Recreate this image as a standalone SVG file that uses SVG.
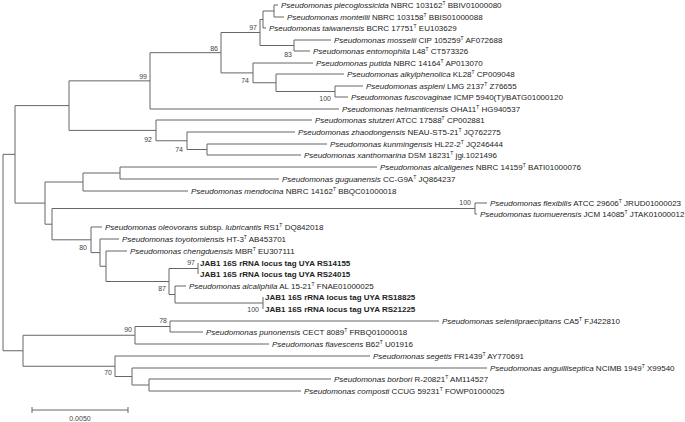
<svg xmlns="http://www.w3.org/2000/svg" width="685" height="422" viewBox="0 0 685 422">
<style>
.t{font-family:"Liberation Sans",Arial,sans-serif;font-size:8px;fill:#222}
.i{font-style:italic}
.b{font-weight:bold}
.s{font-size:5px}
.bs{font-family:"Liberation Sans",Arial,sans-serif;font-size:7px;fill:#444;text-anchor:end}
.e{fill:none;stroke:#666;stroke-width:1}
</style>
<rect width="685" height="422" fill="#fff"/>
<g id="connectors">
<path class="e" d="M3 154.35V350.75M3 154.35H15M3 350.75H23
M15 105.6V203.1M15 105.6H69M15 203.1H45
M69 80.85V130.4M69 80.85H150M69 130.4H156
M150 52.7V109M150 52.7H221M150 109H339
M221 32.5V72.9M221 32.5H260M221 72.9H253
M260 19.5V45.5M260 19.5H263M260 45.5H294
M263 11V28M263 11H274M263 28H266
M274 5V17M274 5H278M274 17H284
M294 40V51M294 40H331M294 51H310
M253 63V82.75M253 63H313M253 82.75H276
M276 74V91.5M276 74H344M276 91.5H335
M335 86V97M335 86H363M335 97H348
M156 120V140.75M156 120H312M156 140.75H187
M187 132V149.5M187 132H295M187 149.5H207
M207 144V155M207 144H327M207 155H301
M45 182V224.2M45 182H83M45 224.2H52
M83 173V191M83 173H120M83 191H188
M120 167V179M120 167H377M120 179H279
M52 208.5V239.8M52 208.5H475M52 239.8H91
M475 203V214M475 203H487M475 214H477
M91 227V252.6M91 227H102M91 252.6H100
M100 239V266.25M100 239H119M100 266.25H106
M106 251V281.5M106 251H127M106 281.5H169
M169 268.5V294.5M169 268.5H198M169 294.5H175
M198 263V274
M175 286V303M175 286H186M175 303H263
M263 297V309
M23 335.25V366.25M23 335.25H135M23 366.25H115
M135 326.5V344M135 326.5H170M135 344H269
M170 321V332M170 321H439M170 332H203
M115 356V376.5M115 356H370M115 376.5H132
M132 368V385M132 368H487M132 385H149
M149 379V391M149 379H331M149 391H301"/>
</g>
<g id="bootstrap">
<text class="bs" x="147" y="78.5">99</text>
<text class="bs" x="218" y="50.5">86</text>
<text class="bs" x="257" y="29.5">97</text>
<text class="bs" x="292" y="56.5">83</text>
<text class="bs" x="249" y="82.5">74</text>
<text class="bs" x="331" y="100.5">100</text>
<text class="bs" x="152" y="141.5">92</text>
<text class="bs" x="183" y="151.5">74</text>
<text class="bs" x="471" y="204.5">100</text>
<text class="bs" x="87" y="249.5">80</text>
<text class="bs" x="195" y="264.5">97</text>
<text class="bs" x="166" y="290.5">87</text>
<text class="bs" x="259" y="312">100</text>
<text class="bs" x="167" y="323">78</text>
<text class="bs" x="132" y="332">90</text>
<text class="bs" x="112" y="375">70</text>
</g>
<g id="n1"><text class="t" x="281" y="8"><tspan class="i">Pseudomonas plecoglossicida</tspan> NBRC 103162<tspan class="s" dy="-3">T</tspan><tspan dy="3"> BBIV01000080</tspan></text></g>
<g id="n2"><text class="t" x="287" y="20"><tspan class="i">Pseudomonas monteilii</tspan> NBRC 103158<tspan class="s" dy="-3">T</tspan><tspan dy="3"> BBIS01000088</tspan></text></g>
<g id="n3"><text class="t" x="269" y="31"><tspan class="i">Pseudomonas taiwanensis</tspan> BCRC 17751<tspan class="s" dy="-3">T</tspan><tspan dy="3"> EU103629</tspan></text></g>
<g id="n4"><text class="t" x="334" y="43"><tspan class="i">Pseudomonas mosselii</tspan> CIP 105259<tspan class="s" dy="-3">T</tspan><tspan dy="3"> AF072688</tspan></text></g>
<g id="n5"><text class="t" x="313" y="54"><tspan class="i">Pseudomonas entomophila</tspan> L48<tspan class="s" dy="-3">T</tspan><tspan dy="3"> CT573326</tspan></text></g>
<g id="n6"><text class="t" x="316" y="66"><tspan class="i">Pseudomonas putida</tspan> NBRC 14164<tspan class="s" dy="-3">T</tspan><tspan dy="3"> AP013070</tspan></text></g>
<g id="n7"><text class="t" x="347" y="77"><tspan class="i">Pseudomonas alkylphenolica</tspan> KL28<tspan class="s" dy="-3">T</tspan><tspan dy="3"> CP009048</tspan></text></g>
<g id="n8"><text class="t" x="366" y="89"><tspan class="i">Pseudomonas aspleni</tspan> LMG 2137<tspan class="s" dy="-3">T</tspan><tspan dy="3"> Z76655</tspan></text></g>
<g id="n9"><text class="t" x="351" y="100"><tspan class="i">Pseudomonas fuscovaginae</tspan> ICMP 5940(T)/BATG01000120</text></g>
<g id="n10"><text class="t" x="342" y="112"><tspan class="i">Pseudomonas helmanticensis</tspan> OHA11<tspan class="s" dy="-3">T</tspan><tspan dy="3"> HG940537</tspan></text></g>
<g id="n11"><text class="t" x="315" y="123"><tspan class="i">Pseudomonas stutzeri</tspan> ATCC 17588<tspan class="s" dy="-3">T</tspan><tspan dy="3"> CP002881</tspan></text></g>
<g id="n12"><text class="t" x="298" y="135"><tspan class="i">Pseudomonas zhaodongensis</tspan> NEAU-ST5-21<tspan class="s" dy="-3">T</tspan><tspan dy="3"> JQ762275</tspan></text></g>
<g id="n13"><text class="t" x="330" y="147"><tspan class="i">Pseudomonas kunmingensis</tspan> HL22-2<tspan class="s" dy="-3">T</tspan><tspan dy="3"> JQ246444</tspan></text></g>
<g id="n14"><text class="t" x="304" y="158"><tspan class="i">Pseudomonas xanthomarina</tspan> DSM 18231<tspan class="s" dy="-3">T</tspan><tspan dy="3"> jgi.1021496</tspan></text></g>
<g id="n15"><text class="t" x="380" y="170"><tspan class="i">Pseudomonas alcaligenes</tspan> NBRC 14159<tspan class="s" dy="-3">T</tspan><tspan dy="3"> BATI01000076</tspan></text></g>
<g id="n16"><text class="t" x="282" y="182"><tspan class="i">Pseudomonas guguanensis</tspan> CC-G9A<tspan class="s" dy="-3">T</tspan><tspan dy="3"> JQ864237</tspan></text></g>
<g id="n17"><text class="t" x="191" y="194"><tspan class="i">Pseudomonas mendocina</tspan> NBRC 14162<tspan class="s" dy="-3">T</tspan><tspan dy="3"> BBQC01000018</tspan></text></g>
<g id="n18"><text class="t" x="490" y="206"><tspan class="i">Pseudomonas flexibilis</tspan> ATCC 29606<tspan class="s" dy="-3">T</tspan><tspan dy="3"> JRUD01000023</tspan></text></g>
<g id="n19"><text class="t" x="480" y="217"><tspan class="i">Pseudomonas tuomuerensis</tspan> JCM 14085<tspan class="s" dy="-3">T</tspan><tspan dy="3"> JTAK01000012</tspan></text></g>
<g id="n20"><text class="t" x="105" y="230"><tspan class="i">Pseudomonas oleovorans</tspan> subsp. <tspan class="i">lubricantis</tspan> RS1<tspan class="s" dy="-3">T</tspan><tspan dy="3"> DQ842018</tspan></text></g>
<g id="n21"><text class="t" x="122" y="242"><tspan class="i">Pseudomonas toyotomiensis</tspan> HT-3<tspan class="s" dy="-3">T</tspan><tspan dy="3"> AB453701</tspan></text></g>
<g id="n22"><text class="t" x="130" y="254"><tspan class="i">Pseudomonas chengduensis</tspan> MBR<tspan class="s" dy="-3">T</tspan><tspan dy="3"> EU307111</tspan></text></g>
<g id="n23"><text class="t b" x="200" y="266">JAB1 16S rRNA locus tag UYA RS14155</text></g>
<g id="n24"><text class="t b" x="200" y="277">JAB1 16S rRNA locus tag UYA RS24015</text></g>
<g id="n25"><text class="t" x="189" y="289"><tspan class="i">Pseudomonas alcaliphila</tspan> AL 15-21<tspan class="s" dy="-3">T</tspan><tspan dy="3"> FNAE01000025</tspan></text></g>
<g id="n26"><text class="t b" x="265" y="300">JAB1 16S rRNA locus tag UYA RS18825</text></g>
<g id="n27"><text class="t b" x="265" y="312">JAB1 16S rRNA locus tag UYA RS21225</text></g>
<g id="n28"><text class="t" x="442" y="324"><tspan class="i">Pseudomonas seleniipraecipitans</tspan> CA5<tspan class="s" dy="-3">T</tspan><tspan dy="3"> FJ422810</tspan></text></g>
<g id="n29"><text class="t" x="206" y="335"><tspan class="i">Pseudomonas punonensis</tspan> CECT 8089<tspan class="s" dy="-3">T</tspan><tspan dy="3"> FRBQ01000018</tspan></text></g>
<g id="n30"><text class="t" x="272" y="347"><tspan class="i">Pseudomonas flavescens</tspan> B62<tspan class="s" dy="-3">T</tspan><tspan dy="3"> U01916</tspan></text></g>
<g id="n31"><text class="t" x="373" y="359"><tspan class="i">Pseudomonas segetis</tspan> FR1439<tspan class="s" dy="-3">T</tspan><tspan dy="3"> AY770691</tspan></text></g>
<g id="n32"><text class="t" x="490" y="371"><tspan class="i">Pseudomonas anguilliseptica</tspan> NCIMB 1949<tspan class="s" dy="-3">T</tspan><tspan dy="3"> X99540</tspan></text></g>
<g id="n33"><text class="t" x="334" y="382"><tspan class="i">Pseudomonas borbori</tspan> R-20821<tspan class="s" dy="-3">T</tspan><tspan dy="3"> AM114527</tspan></text></g>
<g id="n34"><text class="t" x="304" y="394"><tspan class="i">Pseudomonas composti</tspan> CCUG 59231<tspan class="s" dy="-3">T</tspan><tspan dy="3"> FOWP01000025</tspan></text></g>
<g id="scalebar">
<path class="e" d="M32 410H128M32 407V413M128 407V413"/>
<text class="bs" x="80" y="421" style="text-anchor:middle">0.0050</text>
</g>
</svg>
